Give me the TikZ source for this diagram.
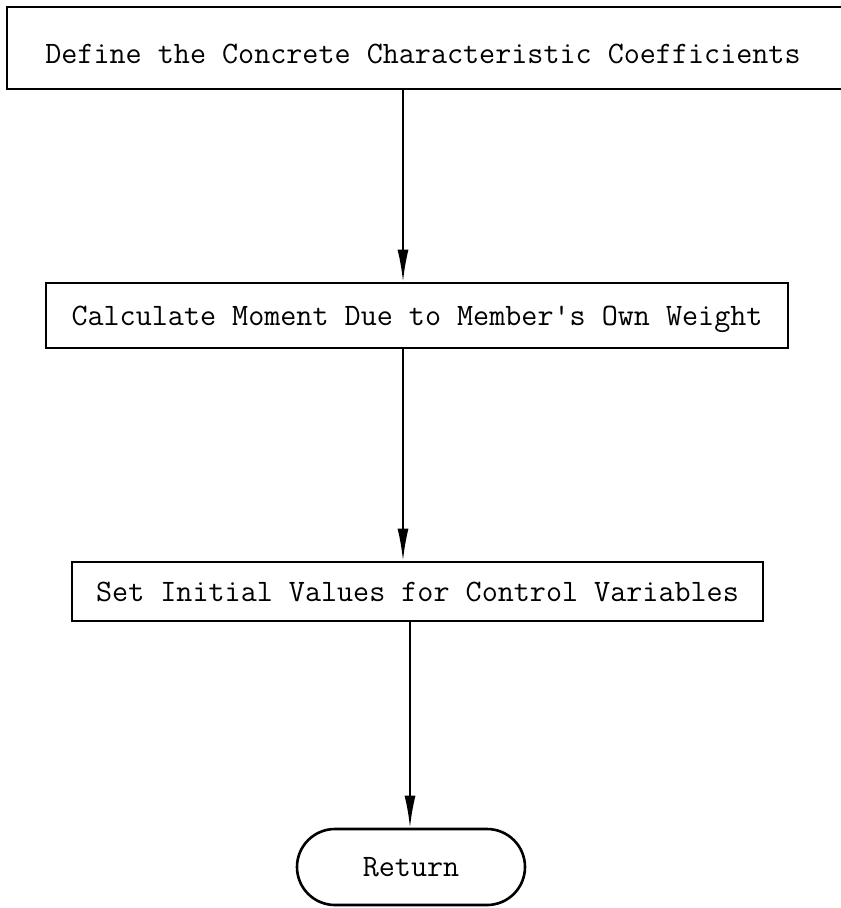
\documentclass[tikz,border=0pt]{standalone}
\usepackage{fontspec}
\usetikzlibrary{arrows.meta,shapes.misc}

% typewriter lettering, slightly heavier than the plain mono face
\newcommand\flowfont{\ttfamily\addfontfeature{FakeBold=1.6}\fontsize{31.2}{36}\selectfont}

\tikzset{
  flowbox/.style={draw, line width=2.6pt, rectangle, inner sep=0pt,
                  text height=19pt, text depth=0pt, font=\flowfont},
  flowtext/.style={inner sep=0pt, anchor=base, font=\flowfont},
  flowarrow/.style={line width=2pt, -{Latex[length=32pt,width=11pt]}},
  endbox/.style={draw, line width=2.6pt, rounded rectangle, inner sep=0pt,
                 text height=19pt, text depth=0pt, font=\flowfont}
}

\begin{document}
\begin{tikzpicture}[x=1pt,y=-1pt]
  % page
  \fill[white] (0,0) rectangle (841,908);
  \useasboundingbox (0,0) rectangle (841,908);

  % columns of the connectors
  \coordinate (c1) at (403,0);
  \coordinate (c3) at (410,0);

  % first step: the box runs off the right edge of the sheet
  \node[flowbox, minimum width=863pt, minimum height=82pt] (b1) at (438.5,48) {};
  \node[flowtext] (t1) at (423,63) {Define the Concrete Characteristic Coefficients};

  \node[flowbox, minimum width=742pt, minimum height=65pt] (b2) at (417,315.5)
    {Calculate Moment Due to Member's Own Weight};

  \node[flowbox, minimum width=691pt, minimum height=59pt] (b3) at (417.5,591.5)
    {Set Initial Values for Control Variables};

  \node[endbox, minimum width=228pt, minimum height=76pt] (ret) at (411,867) {Return};

  % connectors
  \draw[flowarrow] (c1 |- b1.south) -- (c1 |- b2.north);
  \draw[flowarrow] (c1 |- b2.south) -- (c1 |- b3.north);
  \draw[flowarrow] (c3 |- b3.south) -- (c3 |- ret.north);
\end{tikzpicture}
\end{document}
